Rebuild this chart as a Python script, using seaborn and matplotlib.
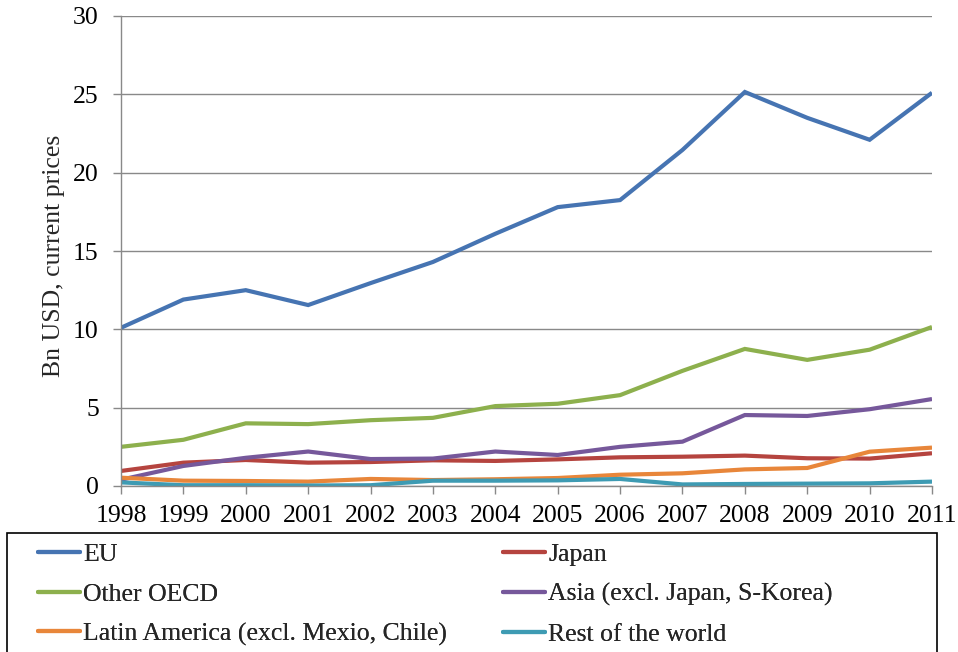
import matplotlib
matplotlib.use("Agg")
import matplotlib.pyplot as plt
import seaborn as sns
import pandas as pd
from matplotlib.patches import Rectangle

years = list(range(1998, 2012))

eu = [10.1, 11.9, 12.5, 11.55, 12.95, 14.3, 16.1, 17.8, 18.25, 21.45, 25.15, 23.5, 22.1, 25.1]
japan = [0.96, 1.49, 1.66, 1.49, 1.53, 1.64, 1.6, 1.7, 1.83, 1.87, 1.94, 1.77, 1.75, 2.09]
other_oecd = [2.5, 2.95, 4.0, 3.95, 4.2, 4.35, 5.1, 5.25, 5.8, 7.35, 8.75, 8.05, 8.7, 10.15]
asia = [0.4, 1.28, 1.8, 2.2, 1.72, 1.75, 2.2, 1.98, 2.5, 2.83, 4.53, 4.47, 4.9, 5.55]
latin_america = [0.53, 0.34, 0.32, 0.28, 0.45, 0.38, 0.43, 0.51, 0.72, 0.81, 1.06, 1.15, 2.19, 2.45]
rest_of_world = [0.23, 0.05, 0.05, 0.03, 0.05, 0.34, 0.34, 0.36, 0.45, 0.1, 0.13, 0.15, 0.17, 0.28]

series_names = ["EU", "Japan", "Other OECD", "Asia (excl. Japan, S-Korea)",
                "Latin America (excl. Mexio, Chile)", "Rest of the world"]
series_values = [eu, japan, other_oecd, asia, latin_america, rest_of_world]
colors = ["#4674B2", "#B5443F", "#8DB04D", "#76589B", "#E8863A", "#3E9BB3"]

rows = []
for name, vals in zip(series_names, series_values):
    for y, v in zip(years, vals):
        rows.append({"Year": y, "Value": v, "Series": name})
df = pd.DataFrame(rows)

sns.set_style("white")
plt.rcParams["font.family"] = ["Liberation Serif", "DejaVu Serif"]

FS = 18.5
fig = plt.figure(figsize=(9.58, 6.52), dpi=100)
W, H = 958, 652
ax = fig.add_axes([121 / W, 1 - 486 / H, (932 - 121) / W, (486 - 16) / H])

sns.lineplot(data=df, x="Year", y="Value", hue="Series", hue_order=series_names,
             palette=colors, linewidth=3.0, ax=ax, legend=False,
             solid_capstyle="butt", solid_joinstyle="miter")

grid_c = "#898989"
ax.set_xlim(1998, 2011)
ax.set_ylim(0, 30)
ax.set_yticks(range(0, 31, 5))
ax.set_xticks(years)
ax.set_xticklabels([str(y) for y in years])
ax.yaxis.grid(True, color=grid_c, linewidth=1.0)
ax.set_axisbelow(True)
for s in ["top", "right"]:
    ax.spines[s].set_visible(False)
for s in ["left", "bottom"]:
    ax.spines[s].set_color(grid_c)
    ax.spines[s].set_linewidth(1.0)
ax.tick_params(axis="both", which="both", direction="out", length=6, width=1.0,
               color=grid_c, labelsize=FS, labelcolor="black", left=True, bottom=True)
ax.tick_params(axis="x", pad=8)
ax.tick_params(axis="y", pad=10)
ax.set_xlabel("")
ax.set_ylabel("")
fig.text(54 / W, 1 - 256 / H, "Bn USD, current prices", rotation=90,
         ha="center", va="center", fontsize=FS)

# legend frame running off the bottom edge
fig.patches.append(Rectangle((7 / W, -0.05), (937 - 7) / W, 1 - 533 / H + 0.05,
                             transform=fig.transFigure, fill=False, edgecolor="black",
                             linewidth=1.2))

handles = ax.get_lines()
leg_kw = dict(loc="upper left", frameon=False, fontsize=FS, handlelength=1.65,
              handletextpad=0.12, labelspacing=0.65, borderaxespad=0, borderpad=0)
for col, x0 in (([0, 2, 4], 38), ([1, 3, 5], 503)):
    leg = fig.legend([handles[i] for i in col], [series_names[i] for i in col],
                     bbox_to_anchor=(x0 / W, 1 - 543 / H), **leg_kw)
    for ln in leg.get_lines():
        ln.set_linewidth(3.0)
        ln.set_solid_capstyle("round")
    fig.add_artist(leg)

fig.savefig("out.png", dpi=100)
